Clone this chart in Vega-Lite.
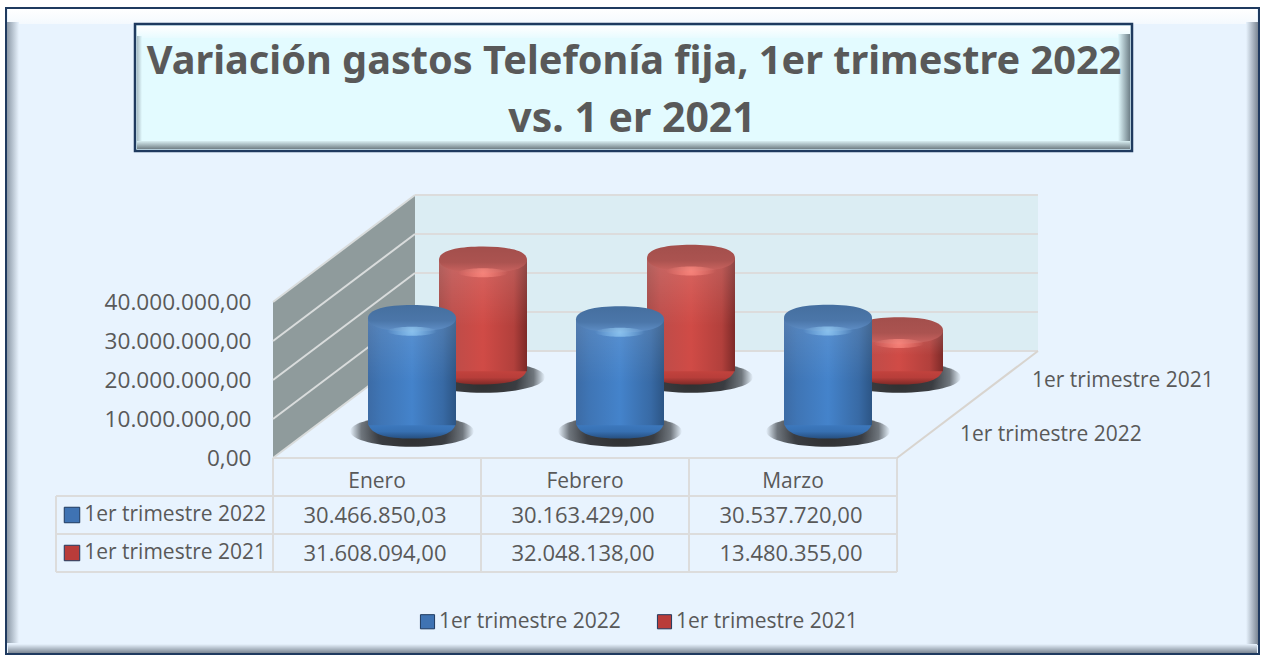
{
"$schema":"https://vega.github.io/schema/vega-lite/v6.json",
"width":1261,"height":656,"padding":0,"autosize":{"type":"none"},"background":"#ffffff",
"config":{"view":{"stroke":null},"font":"Open Sans"},
"datasets":{
"gastos":[
{"mes":"Enero","serie":"1er trimestre 2022","valor":30466850.03,"texto":"30.466.850,03"},
{"mes":"Febrero","serie":"1er trimestre 2022","valor":30163429,"texto":"30.163.429,00"},
{"mes":"Marzo","serie":"1er trimestre 2022","valor":30537720,"texto":"30.537.720,00"},
{"mes":"Enero","serie":"1er trimestre 2021","valor":31608094,"texto":"31.608.094,00"},
{"mes":"Febrero","serie":"1er trimestre 2021","valor":32048138,"texto":"32.048.138,00"},
{"mes":"Marzo","serie":"1er trimestre 2021","valor":13480355,"texto":"13.480.355,00"}],
"series":[{"serie":"1er trimestre 2022"},{"serie":"1er trimestre 2021"}],
"unico":[{"pieza":"marco"}],
"pared":[{"profundidad":0,"techo":40000000,"suelo":0},{"profundidad":1,"techo":67440000,"suelo":27440000}],
"rejilla":[{"valor":0,"fondo":27440000},{"valor":10000000,"fondo":37440000},{"valor":20000000,"fondo":47440000},{"valor":30000000,"fondo":57440000},{"valor":40000000,"fondo":67440000}]
},
"resolve":{"scale":{"x":"independent","y":"independent"}},
"layer":[
{"data":{"name":"unico"},"encoding":{
"x":{"datum":6,"type":"quantitative","axis":null,"scale":{"domain":[0,1261],"range":[0,1261]}},
"y":{"datum":8,"type":"quantitative","axis":null,"scale":{"domain":[0,656],"range":[0,656]}}},
"layer":[
{"mark":{"type":"rect","fill":"#e8f3fe","stroke":"#1f3a5f","strokeWidth":2},"encoding":{"x2":{"datum":1259},"y2":{"datum":654}}},
{"mark":{"type":"rect","fill":{"gradient":"linear","x1":0,"y1":0,"x2":0,"y2":1,"stops":[{"offset":0,"color":"#ffffff"},{"offset":1,"color":"#f4f9fe"}]}},"encoding":{"x":{"datum":8},"x2":{"datum":1257},"y":{"datum":9},"y2":{"datum":24}}},
{"mark":{"type":"rect","fill":{"gradient":"linear","x1":0,"y1":0,"x2":1,"y2":0,"stops":[{"offset":0,"color":"#8d9aa8"},{"offset":1,"color":"#e8f3fe"}]}},"encoding":{"x":{"datum":7},"x2":{"datum":19},"y":{"datum":22},"y2":{"datum":643}}},
{"mark":{"type":"rect","fill":{"gradient":"linear","x1":0,"y1":0,"x2":1,"y2":0,"stops":[{"offset":0,"color":"#e8f3fe"},{"offset":1,"color":"#7c8794"}]}},"encoding":{"x":{"datum":1246},"x2":{"datum":1258},"y":{"datum":22},"y2":{"datum":645}}},
{"mark":{"type":"rect","fill":{"gradient":"linear","x1":0,"y1":0,"x2":0,"y2":1,"stops":[{"offset":0,"color":"#e8f3fe"},{"offset":1,"color":"#7c8794"}]}},"encoding":{"x":{"datum":8},"x2":{"datum":1257},"y":{"datum":644},"y2":{"datum":653}}},
{"mark":{"type":"rect","fill":"#e3fbff","stroke":"#1f3a5f","strokeWidth":2.5},"encoding":{"x":{"datum":135},"x2":{"datum":1132},"y":{"datum":24},"y2":{"datum":151}}},
{"mark":{"type":"rect","fill":{"gradient":"linear","x1":0,"y1":0,"x2":0,"y2":1,"stops":[{"offset":0,"color":"#ffffff"},{"offset":1,"color":"#e8fbff"}]}},"encoding":{"x":{"datum":137},"x2":{"datum":1130},"y":{"datum":26},"y2":{"datum":38}}},
{"mark":{"type":"rect","fill":{"gradient":"linear","x1":0,"y1":0,"x2":1,"y2":0,"stops":[{"offset":0,"color":"#a9bcc4"},{"offset":1,"color":"#e3fbff"}]}},"encoding":{"x":{"datum":137},"x2":{"datum":142},"y":{"datum":36},"y2":{"datum":142}}},
{"mark":{"type":"rect","fill":{"gradient":"linear","x1":0,"y1":0,"x2":1,"y2":0,"stops":[{"offset":0,"color":"#e3fbff"},{"offset":1,"color":"#6f8088"}]}},"encoding":{"x":{"datum":1118},"x2":{"datum":1130},"y":{"datum":34},"y2":{"datum":142}}},
{"mark":{"type":"rect","fill":{"gradient":"linear","x1":0,"y1":0,"x2":0,"y2":1,"stops":[{"offset":0,"color":"#d8eef2"},{"offset":1,"color":"#717f85"}]}},"encoding":{"x":{"datum":137},"x2":{"datum":1130},"y":{"datum":141},"y2":{"datum":149}}},
{"mark":{"type":"rect","fill":"#dbedf3"},"encoding":{"x":{"datum":415},"x2":{"datum":1038},"y":{"datum":195},"y2":{"datum":350}}},
{"mark":{"type":"rule","stroke":"#dcdcdc","strokeWidth":2},"encoding":{"x":{"datum":56},"x2":{"datum":897},"y":{"datum":496}}},
{"mark":{"type":"rule","stroke":"#dcdcdc","strokeWidth":2},"encoding":{"x":{"datum":56},"x2":{"datum":897},"y":{"datum":534}}},
{"mark":{"type":"rule","stroke":"#dcdcdc","strokeWidth":2},"encoding":{"x":{"datum":56},"x2":{"datum":897},"y":{"datum":572}}},
{"mark":{"type":"rule","stroke":"#dcdcdc","strokeWidth":2},"encoding":{"x":{"datum":56},"y":{"datum":496},"y2":{"datum":572}}},
{"mark":{"type":"rule","stroke":"#dcdcdc","strokeWidth":2},"encoding":{"x":{"datum":273},"y":{"datum":458},"y2":{"datum":572}}},
{"mark":{"type":"rule","stroke":"#dcdcdc","strokeWidth":2},"encoding":{"x":{"datum":481},"y":{"datum":458},"y2":{"datum":572}}},
{"mark":{"type":"rule","stroke":"#dcdcdc","strokeWidth":2},"encoding":{"x":{"datum":689},"y":{"datum":458},"y2":{"datum":572}}},
{"mark":{"type":"rule","stroke":"#dcdcdc","strokeWidth":2},"encoding":{"x":{"datum":897},"y":{"datum":458},"y2":{"datum":572}}},
{"mark":{"type":"text","text":"Variación gastos Telefonía fija, 1er trimestre 2022","font":"Noto Sans","fontWeight":"bold","fontSize":39.7,"fill":"#595959","align":"center","baseline":"middle"},"encoding":{"x":{"datum":634},"y":{"datum":62}}},
{"mark":{"type":"text","text":"vs. 1 er 2021","font":"Noto Sans","fontWeight":"bold","fontSize":41,"fill":"#595959","align":"center","baseline":"middle"},"encoding":{"x":{"datum":632},"y":{"datum":120}}},
{"mark":{"type":"text","text":"1er trimestre 2021","fontSize":21,"fill":"#595959","align":"left","baseline":"middle"},"encoding":{"x":{"datum":1032},"y":{"datum":381}}},
{"mark":{"type":"text","text":"1er trimestre 2022","fontSize":21,"fill":"#595959","align":"left","baseline":"middle"},"encoding":{"x":{"datum":960},"y":{"datum":435}}}
]},
{"encoding":{
"x":{"type":"quantitative","axis":null,"scale":{"domain":[0,1],"range":[273,415],"nice":false,"zero":false}},
"y":{"type":"quantitative","axis":null,"scale":{"domain":[0,40000000],"range":[458,302],"nice":false,"zero":false}}},
"layer":[
{"data":{"name":"pared"},"mark":{"type":"area","fill":"#8f9b9c","opacity":1,"orient":"vertical"},"encoding":{"x":{"field":"profundidad"},"y":{"field":"techo","stack":null},"y2":{"field":"suelo"}}},
{"data":{"name":"rejilla"},"mark":{"type":"rule","stroke":"#d9dcdc","strokeWidth":2},"encoding":{"x":{"datum":0},"x2":{"datum":1},"y":{"field":"valor"},"y2":{"field":"fondo"}}},
{"data":{"name":"rejilla"},"mark":{"type":"rule","stroke":"#dcdcdc","strokeWidth":2},"encoding":{"x":{"datum":1},"x2":{"datum":5.387},"y":{"field":"fondo"}}},
{"data":{"name":"unico"},"mark":{"type":"rule","stroke":"#dcdcdc","strokeWidth":2},"encoding":{"x":{"datum":0},"x2":{"datum":4.394},"y":{"datum":0}}},
{"data":{"name":"unico"},"mark":{"type":"rule","stroke":"#d8d4cf","strokeWidth":2},"encoding":{"x":{"datum":4.394},"x2":{"datum":5.387},"y":{"datum":0},"y2":{"datum":27440000}}}
]},
{"data":{"name":"gastos"},
"encoding":{
"x":{"field":"mes","type":"nominal","sort":null,"title":null,"scale":{"domain":["Enero","Febrero","Marzo"],"range":[273,897],"paddingInner":0,"paddingOuter":0},"axis":{"orient":"bottom","offset":-198,"zindex":1,"domain":false,"ticks":false,"grid":false,"labelAngle":0,"labelPadding":12,"labelFontSize":21,"labelColor":"#595959","labelFont":"Open Sans"}},
"y":{"field":"valor","type":"quantitative","title":null,"scale":{"domain":[0,40000000],"range":[458,302],"nice":false,"zero":false},"axis":{"orient":"left","offset":-273,"zindex":1,"domain":false,"ticks":false,"grid":false,"values":[0,10000000,20000000,30000000,40000000],"labelPadding":22,"labelFontSize":22.6,"labelColor":"#595959","labelFont":"Open Sans","labelExpr":"replace(replace(replace(format(datum.value,',.2f'),/,/g,'#'),/[.]/g,','),/#/g,'.')"}}},
"layer":[
{"transform":[{"filter":"datum.serie == '1er trimestre 2021'"}],
"layer":[
{"mark":{"type":"point","filled":true,"opacity":1,"size":15376,"shape":"M-1,0C-1,-.138 -.553,-.25 0,-.25C.553,-.25 1,-.138 1,0C1,.138 .553,.25 0,.25C-.553,.25 -1,.138 -1,0Z","xOffset":106,"yOffset":-69,"fill":{"gradient":"radial","x1":0.5,"y1":0.5,"r1":0,"x2":0.5,"y2":0.5,"r2":0.5,"stops":[{"offset":0,"color":"#2e2e2e"},{"offset":0.55,"color":"#3a3d42"},{"offset":0.82,"color":"rgba(60,65,70,0.7)"},{"offset":1,"color":"rgba(60,65,70,0)"}]}},"encoding":{"y":{"datum":3000000}}},
{"mark":{"type":"point","filled":true,"opacity":1,"size":7744,"shape":"M-1,-.1C-1,.2 -.6,.3 0,.3C.6,.3 1,.2 1,-.1Z","xOffset":106,"yOffset":-75,"fill":{"gradient":"linear","x1":0,"y1":0,"x2":0,"y2":1,"stops":[{"offset":0,"color":"#c9453f"},{"offset":0.6,"color":"#b83e3a"},{"offset":1,"color":"#7f2a27"}]}},"encoding":{"y":{"datum":3000000}}},
{"mark":{"type":"bar","width":88,"xOffset":106,"x2Offset":106,"yOffset":-75,"y2Offset":-75,"fill":{"gradient":"linear","x1":0,"y1":0,"x2":1,"y2":0,"stops":[{"offset":0,"color":"#a54744"},{"offset":0.15,"color":"#bd4c49"},{"offset":0.5,"color":"#d04b46"},{"offset":0.85,"color":"#b2403c"},{"offset":1,"color":"#7d2a28"}]}},"encoding":{"y2":{"datum":3000000}}},
{"mark":{"type":"bar","width":88,"xOffset":106,"x2Offset":106,"yOffset":-75,"y2Offset":-75,"fill":{"gradient":"linear","x1":0,"y1":0,"x2":0,"y2":1,"stops":[{"offset":0,"color":"rgba(255,255,255,0.15)"},{"offset":0.6,"color":"rgba(255,255,255,0)"},{"offset":1,"color":"rgba(0,0,0,0)"}]}},"encoding":{"y2":{"datum":3000000}}},
{"mark":{"type":"point","filled":true,"opacity":1,"size":7744,"shape":"M-1,0C-1,-.2 -.6,-.3 0,-.3C.6,-.3 1,-.2 1,0C1,.2 .6,.3 0,.3C-.6,.3 -1,.2 -1,0Z","xOffset":106,"yOffset":-75,"fill":{"gradient":"linear","x1":0,"y1":0,"x2":0,"y2":1,"stops":[{"offset":0,"color":"#a34f4c"},{"offset":0.6,"color":"#ab5350"},{"offset":1,"color":"#cc6460"}]}}},
{"mark":{"type":"point","filled":true,"opacity":1,"size":2500,"shape":"M-1,0C-1,-.1 -.5,-.18 0,-.18C.5,-.18 1,-.1 1,0C1,.1 .5,.18 0,.18C-.5,.18 -1,.1 -1,0Z","xOffset":106,"yOffset":-62,"fill":{"gradient":"radial","x1":0.5,"y1":0.5,"r1":0,"x2":0.5,"y2":0.5,"r2":0.5,"stops":[{"offset":0,"color":"rgba(255,140,130,0.8)"},{"offset":1,"color":"rgba(255,140,130,0)"}]}}}
]},
{"transform":[{"filter":"datum.serie == '1er trimestre 2022'"}],
"layer":[
{"mark":{"type":"point","filled":true,"opacity":1,"size":15376,"shape":"M-1,0C-1,-.138 -.553,-.25 0,-.25C.553,-.25 1,-.138 1,0C1,.138 .553,.25 0,.25C-.553,.25 -1,.138 -1,0Z","xOffset":35,"yOffset":-15,"fill":{"gradient":"radial","x1":0.5,"y1":0.5,"r1":0,"x2":0.5,"y2":0.5,"r2":0.5,"stops":[{"offset":0,"color":"#2e2e2e"},{"offset":0.55,"color":"#3a3d42"},{"offset":0.82,"color":"rgba(60,65,70,0.7)"},{"offset":1,"color":"rgba(60,65,70,0)"}]}},"encoding":{"y":{"datum":3000000}}},
{"mark":{"type":"point","filled":true,"opacity":1,"size":7744,"shape":"M-1,-.1C-1,.2 -.6,.3 0,.3C.6,.3 1,.2 1,-.1Z","xOffset":35,"yOffset":-21,"fill":{"gradient":"linear","x1":0,"y1":0,"x2":0,"y2":1,"stops":[{"offset":0,"color":"#407ec5"},{"offset":0.6,"color":"#3770b2"},{"offset":1,"color":"#264f80"}]}},"encoding":{"y":{"datum":3000000}}},
{"mark":{"type":"bar","width":88,"xOffset":35,"x2Offset":35,"yOffset":-21,"y2Offset":-21,"fill":{"gradient":"linear","x1":0,"y1":0,"x2":1,"y2":0,"stops":[{"offset":0,"color":"#3c6ba5"},{"offset":0.15,"color":"#3f75b5"},{"offset":0.5,"color":"#4483cb"},{"offset":0.85,"color":"#386aa5"},{"offset":1,"color":"#2c5585"}]}},"encoding":{"y2":{"datum":3000000}}},
{"mark":{"type":"bar","width":88,"xOffset":35,"x2Offset":35,"yOffset":-21,"y2Offset":-21,"fill":{"gradient":"linear","x1":0,"y1":0,"x2":0,"y2":1,"stops":[{"offset":0,"color":"rgba(255,255,255,0.12)"},{"offset":0.6,"color":"rgba(255,255,255,0)"},{"offset":1,"color":"rgba(0,0,0,0)"}]}},"encoding":{"y2":{"datum":3000000}}},
{"mark":{"type":"point","filled":true,"opacity":1,"size":7744,"shape":"M-1,0C-1,-.2 -.6,-.3 0,-.3C.6,-.3 1,-.2 1,0C1,.2 .6,.3 0,.3C-.6,.3 -1,.2 -1,0Z","xOffset":35,"yOffset":-21,"fill":{"gradient":"linear","x1":0,"y1":0,"x2":0,"y2":1,"stops":[{"offset":0,"color":"#456f9f"},{"offset":0.6,"color":"#4b76a9"},{"offset":1,"color":"#6090c8"}]}}},
{"mark":{"type":"point","filled":true,"opacity":1,"size":2500,"shape":"M-1,0C-1,-.1 -.5,-.18 0,-.18C.5,-.18 1,-.1 1,0C1,.1 .5,.18 0,.18C-.5,.18 -1,.1 -1,0Z","xOffset":35,"yOffset":-8,"fill":{"gradient":"radial","x1":0.5,"y1":0.5,"r1":0,"x2":0.5,"y2":0.5,"r2":0.5,"stops":[{"offset":0,"color":"rgba(150,205,245,0.8)"},{"offset":1,"color":"rgba(150,205,245,0)"}]}}}
]}
]},
{"data":{"name":"gastos"},
"mark":{"type":"text","fontSize":22,"fill":"#595959","align":"center","baseline":"middle","dx":-2},
"encoding":{
"x":{"field":"mes","type":"nominal","axis":null,"scale":{"domain":["Enero","Febrero","Marzo"],"range":[273,897],"paddingInner":0,"paddingOuter":0}},
"y":{"field":"serie","type":"nominal","axis":null,"scale":{"type":"point","domain":["1er trimestre 2022","1er trimestre 2021"],"range":[516,554],"padding":0}},
"text":{"field":"texto"}}},
{"data":{"name":"series"},
"encoding":{
"y":{"field":"serie","type":"nominal","axis":null,"scale":{"type":"point","domain":["1er trimestre 2022","1er trimestre 2021"],"range":[515,553],"padding":0}},
"x":{"datum":266,"type":"quantitative","axis":null,"scale":{"domain":[0,1261],"range":[0,1261]}}},
"layer":[
{"mark":{"type":"text","fontSize":21,"fill":"#595959","align":"right","baseline":"middle"},"encoding":{"text":{"field":"serie"}}},
{"mark":{"type":"point","filled":true,"opacity":1,"shape":"square","size":240,"stroke":"#1f3a5f","strokeWidth":1},
"encoding":{"x":{"datum":72},
"color":{"field":"serie","type":"nominal","scale":{"domain":["1er trimestre 2022","1er trimestre 2021"],"range":["#3f73b3","#b93c3a"]},
"legend":{"orient":"none","legendX":417,"legendY":611,"direction":"horizontal","title":null,"columns":2,"columnPadding":33,"symbolType":"square","symbolSize":200,"symbolOpacity":1,"symbolStrokeColor":"#1f3a5f","symbolStrokeWidth":1,"labelFontSize":21,"labelColor":"#595959","labelFont":"Open Sans","labelOffset":1,"labelLimit":400}}}}
]}
]
}
